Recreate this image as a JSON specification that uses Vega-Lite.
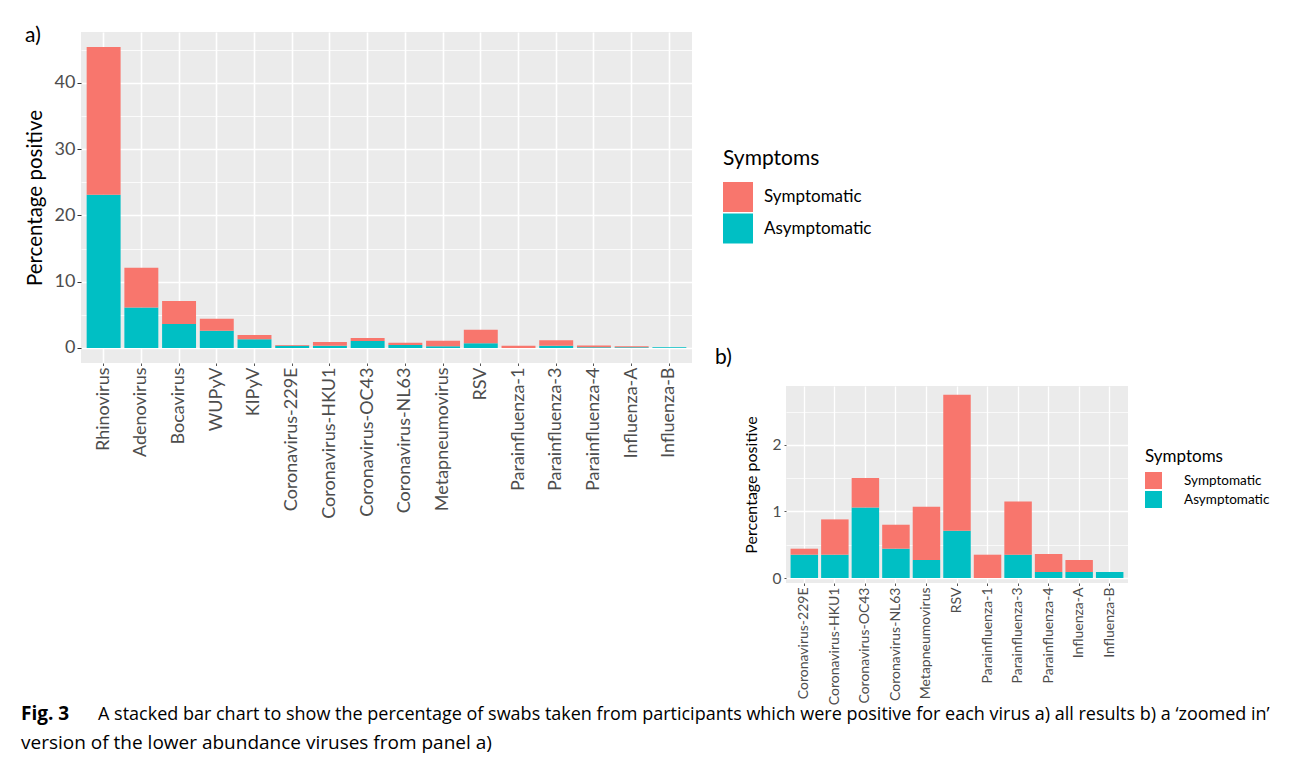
{
  "$schema": "https://vega.github.io/schema/vega-lite/v6.json",
  "padding": {"left": 21, "top": 25, "right": 0, "bottom": 8},
  "background": "white",
  "config": {"view": {"stroke": null}, "font": "Lato"},
  "datasets": {
    "viruses": [
      {"virus": "Rhinovirus", "symptoms": "Asymptomatic", "pct": 23.1},
      {"virus": "Rhinovirus", "symptoms": "Symptomatic", "pct": 22.3},
      {"virus": "Adenovirus", "symptoms": "Asymptomatic", "pct": 6.1},
      {"virus": "Adenovirus", "symptoms": "Symptomatic", "pct": 6.0},
      {"virus": "Bocavirus", "symptoms": "Asymptomatic", "pct": 3.6},
      {"virus": "Bocavirus", "symptoms": "Symptomatic", "pct": 3.5},
      {"virus": "WUPyV", "symptoms": "Asymptomatic", "pct": 2.6},
      {"virus": "WUPyV", "symptoms": "Symptomatic", "pct": 1.8},
      {"virus": "KIPyV", "symptoms": "Asymptomatic", "pct": 1.33},
      {"virus": "KIPyV", "symptoms": "Symptomatic", "pct": 0.62},
      {"virus": "Coronavirus-229E", "symptoms": "Asymptomatic", "pct": 0.35},
      {"virus": "Coronavirus-229E", "symptoms": "Symptomatic", "pct": 0.09},
      {"virus": "Coronavirus-HKU1", "symptoms": "Asymptomatic", "pct": 0.35},
      {"virus": "Coronavirus-HKU1", "symptoms": "Symptomatic", "pct": 0.53},
      {"virus": "Coronavirus-OC43", "symptoms": "Asymptomatic", "pct": 1.06},
      {"virus": "Coronavirus-OC43", "symptoms": "Symptomatic", "pct": 0.44},
      {"virus": "Coronavirus-NL63", "symptoms": "Asymptomatic", "pct": 0.44},
      {"virus": "Coronavirus-NL63", "symptoms": "Symptomatic", "pct": 0.36},
      {"virus": "Metapneumovirus", "symptoms": "Asymptomatic", "pct": 0.27},
      {"virus": "Metapneumovirus", "symptoms": "Symptomatic", "pct": 0.8},
      {"virus": "RSV", "symptoms": "Asymptomatic", "pct": 0.71},
      {"virus": "RSV", "symptoms": "Symptomatic", "pct": 2.04},
      {"virus": "Parainfluenza-1", "symptoms": "Symptomatic", "pct": 0.35},
      {"virus": "Parainfluenza-3", "symptoms": "Asymptomatic", "pct": 0.35},
      {"virus": "Parainfluenza-3", "symptoms": "Symptomatic", "pct": 0.8},
      {"virus": "Parainfluenza-4", "symptoms": "Asymptomatic", "pct": 0.09},
      {"virus": "Parainfluenza-4", "symptoms": "Symptomatic", "pct": 0.27},
      {"virus": "Influenza-A", "symptoms": "Asymptomatic", "pct": 0.09},
      {"virus": "Influenza-A", "symptoms": "Symptomatic", "pct": 0.18},
      {"virus": "Influenza-B", "symptoms": "Asymptomatic", "pct": 0.09}
    ]
  },
  "bounds": "flush",
  "spacing": 58,
  "resolve": {"scale": {"color": "independent"}, "legend": {"color": "independent"}},
  "hconcat": [
    {
      "width": 1,
      "height": 1,
      "data": {"values": []},
      "mark": "point",
      "title": {
        "text": "Fig. 3",
        "subtitle": "version of the lower abundance viruses from panel a)",
        "orient": "bottom", "anchor": "start", "frame": "group",
        "offset": 672, "dx": -1, "limit": 3000,
        "font": "Open Sans", "fontSize": 19, "fontWeight": "bold", "color": "black",
        "subtitleFont": "Open Sans", "subtitleFontSize": 19, "subtitleFontWeight": "normal",
        "subtitleColor": "black", "subtitlePadding": 10
      }
    },
    {
      "bounds": "flush",
      "spacing": 94,
      "resolve": {"scale": {"color": "independent"}, "legend": {"color": "independent"}},
      "hconcat": [
        {
          "width": 611,
          "height": 331,
          "view": {"fill": "#EBEBEB", "stroke": null},
          "data": {"name": "viruses"},
          "title": {"text": "a)", "anchor": "start", "frame": "bounds", "orient": "top", "offset": -14, "dx": 0, "fontSize": 21, "font": "Lato", "fontWeight": "normal", "color": "black"},
          "mark": {"type": "bar"},
          "encoding": {
            "x": {
              "field": "virus", "type": "nominal",
              "sort": ["Rhinovirus", "Adenovirus", "Bocavirus", "WUPyV", "KIPyV", "Coronavirus-229E", "Coronavirus-HKU1", "Coronavirus-OC43", "Coronavirus-NL63", "Metapneumovirus", "RSV", "Parainfluenza-1", "Parainfluenza-3", "Parainfluenza-4", "Influenza-A", "Influenza-B"],
              "scale": {"paddingInner": 0.1, "paddingOuter": 0.15},
              "axis": {
                "title": null, "labelAngle": -90, "labelFontSize": 18, "labelFont": "Lato", "labelColor": "#4D4D4D",
                "labelPadding": 1.5, "labelOverlap": false, "labelLimit": 400,
                "tickColor": "#555555", "tickSize": 2.5, "domain": false,
                "grid": true, "gridColor": "white", "gridWidth": 1.6, "bandPosition": 0.5
              }
            },
            "y": {
              "field": "pct", "type": "quantitative", "stack": "zero",
              "scale": {"domain": [-2.27, 47.67], "nice": false, "zero": false},
              "axis": {
                "title": "Percentage positive", "titleFontSize": 20.5, "titleFont": "Lato", "titleFontWeight": "normal", "titleColor": "black", "titlePadding": 9,
                "values": [0, 5, 10, 15, 20, 25, 30, 35, 40, 45],
                "labelExpr": "datum.value % 10 === 0 ? '' + datum.value : ''",
                "labelFontSize": 18, "labelFont": "Lato", "labelColor": "#4D4D4D", "labelPadding": 2, "labelOverlap": false,
                "tickColor": "#333333", "tickSize": 4,
                "tickOpacity": {"condition": {"test": "datum.value % 10 !== 0", "value": 0}, "value": 1},
                "domain": false, "grid": true, "gridColor": "white",
                "gridWidth": {"condition": {"test": "datum.value % 10 !== 0", "value": 0.8}, "value": 1.6}
              }
            },
            "color": {
              "field": "symptoms", "type": "nominal",
              "scale": {"domain": ["Symptomatic", "Asymptomatic"], "range": ["#F8766D", "#00BFC4"]},
              "legend": {
                "orient": "none", "legendX": 642, "legendY": 116, "title": "Symptoms",
                "titleFontSize": 21, "titleFont": "Lato", "titleFontWeight": "normal", "titleColor": "black", "titlePadding": 13,
                "labelFontSize": 17, "labelFont": "Lato", "labelColor": "black", "labelOffset": 11,
                "symbolType": "square", "symbolSize": 900, "symbolStrokeWidth": 0, "symbolOpacity": 1,
                "rowPadding": 1.5, "padding": 0
              }
            },
            "order": {"field": "symptoms", "sort": "ascending"}
          }
        },
        {
          "bounds": "flush",
          "spacing": 353,
          "resolve": {"scale": {"color": "independent"}, "legend": {"color": "independent"}},
          "vconcat": [
            {
              "width": 1, "height": 1, "data": {"values": []}, "mark": "point",
              "title": {
                "text": "A stacked bar chart to show the percentage of swabs taken from participants which were positive for each virus a) all results b) a ‘zoomed in’",
                "orient": "bottom", "anchor": "start", "frame": "group",
                "offset": 673, "dx": -688, "limit": 3000,
                "font": "Open Sans", "fontSize": 18, "fontWeight": "normal", "color": "black"
              }
            },
            {
              "width": 342,
              "height": 197,
              "view": {"fill": "#EBEBEB", "stroke": null},
              "data": {"name": "viruses"},
              "transform": [{"filter": {"field": "virus", "oneOf": ["Coronavirus-229E", "Coronavirus-HKU1", "Coronavirus-OC43", "Coronavirus-NL63", "Metapneumovirus", "RSV", "Parainfluenza-1", "Parainfluenza-3", "Parainfluenza-4", "Influenza-A", "Influenza-B"]}}],
              "title": {"text": "b)", "anchor": "start", "frame": "bounds", "orient": "top", "offset": 18, "dx": -28, "fontSize": 21, "font": "Lato", "fontWeight": "normal", "color": "black"},
              "mark": {"type": "bar"},
              "encoding": {
                "x": {
                  "field": "virus", "type": "nominal",
                  "sort": ["Coronavirus-229E", "Coronavirus-HKU1", "Coronavirus-OC43", "Coronavirus-NL63", "Metapneumovirus", "RSV", "Parainfluenza-1", "Parainfluenza-3", "Parainfluenza-4", "Influenza-A", "Influenza-B"],
                  "scale": {"paddingInner": 0.1, "paddingOuter": 0.15},
                  "axis": {
                    "title": null, "labelAngle": -90, "labelFontSize": 14, "labelFont": "Lato", "labelColor": "#4D4D4D",
                    "labelPadding": 1.5, "labelOverlap": false, "labelLimit": 400,
                    "tickColor": "#555555", "tickSize": 2.5, "domain": false,
                    "grid": true, "gridColor": "white", "gridWidth": 1.3, "bandPosition": 0.5
                  }
                },
                "y": {
                  "field": "pct", "type": "quantitative", "stack": "zero",
                  "scale": {"domain": [-0.075, 2.883], "nice": false, "zero": false},
                  "axis": {
                    "title": "Percentage positive", "titleFontSize": 16, "titleFont": "Lato", "titleFontWeight": "normal", "titleColor": "black", "titlePadding": 13,
                    "values": [0, 0.5, 1, 1.5, 2, 2.5],
                    "labelExpr": "datum.value % 1 === 0 ? '' + datum.value : ''",
                    "labelFontSize": 15.5, "labelFont": "Lato", "labelColor": "#4D4D4D", "labelPadding": 3, "labelOverlap": false,
                    "tickColor": "#555555", "tickSize": 2,
                    "tickOpacity": {"condition": {"test": "datum.value % 1 !== 0", "value": 0}, "value": 1},
                    "domain": false, "grid": true, "gridColor": "white",
                    "gridWidth": {"condition": {"test": "datum.value % 1 !== 0", "value": 0.7}, "value": 1.3}
                  }
                },
                "color": {
                  "field": "symptoms", "type": "nominal",
                  "scale": {"domain": ["Symptomatic", "Asymptomatic"], "range": ["#F8766D", "#00BFC4"]},
                  "legend": {
                    "orient": "none", "legendX": 359, "legendY": 63, "title": "Symptoms",
                    "titleFontSize": 17, "titleFont": "Lato", "titleFontWeight": "normal", "titleColor": "black", "titlePadding": 6,
                    "labelFontSize": 13.5, "labelFont": "Lato", "labelColor": "black", "labelOffset": 22,
                    "symbolType": "square", "symbolSize": 289, "symbolStrokeWidth": 0, "symbolOpacity": 1,
                    "rowPadding": 2, "padding": 0
                  }
                },
                "order": {"field": "symptoms", "sort": "ascending"}
              }
            }
          ]
        }
      ]
    }
  ]
}
